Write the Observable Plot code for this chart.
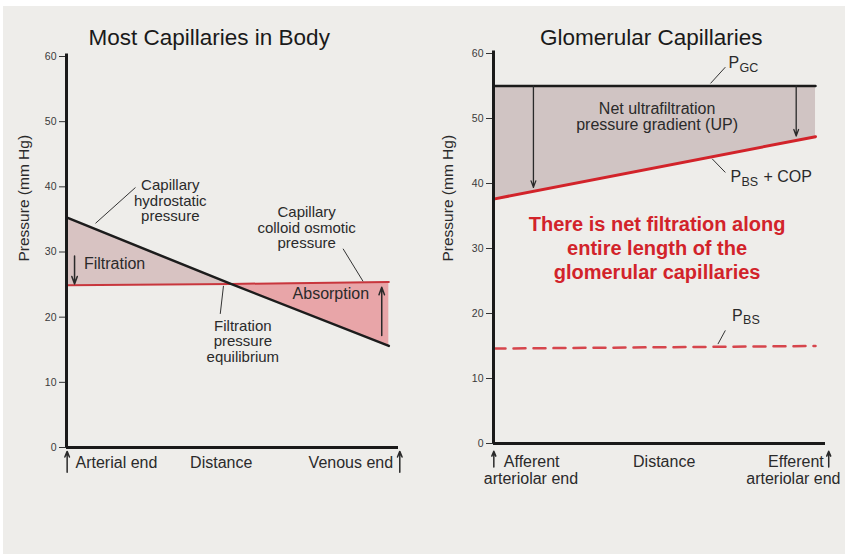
<!DOCTYPE html>
<html>
<head>
<meta charset="utf-8">
<script src="https://cdn.jsdelivr.net/npm/d3@7"></script>
<script src="https://cdn.jsdelivr.net/npm/@observablehq/plot@0.6"></script>
<style>
  html, body { margin: 0; padding: 0; background: #ffffff; }
  #page { position: relative; width: 845px; height: 554px; overflow: hidden; background: #ffffff; }
  #paper { position: absolute; left: 3px; top: 6px; width: 842px; height: 548px; background: #eeedea; }
  #left, #right { position: absolute; top: 0; }
  #left { left: 0; }
  #right { left: 430px; }
</style>
</head>
<body>
<div id="page">
  <div id="paper"></div>
  <div id="left"></div>
  <div id="right"></div>
</div>
<script>
// ---------- Data ----------
const yTicks = [0, 10, 20, 30, 40, 50, 60];

// Left panel: most capillaries in body (distance 0 = arterial end, 1 = venous end)
const leftTitle = "Most Capillaries in Body";
const distance = [0, 0.51, 1];
const hydrostatic = [35.3, 25.1, 15.6];      // capillary hydrostatic pressure
const colloidOsmotic = [24.9, 25.1, 25.4];   // capillary colloid osmotic pressure
const leftEndLabels = ["Arterial end", "Distance", "Venous end"];

// Right panel: glomerular capillaries (0 = afferent, 1 = efferent arteriolar end)
const rightTitle = "Glomerular Capillaries";
const glomDistance = [0, 1];
const pGC = [55, 55];
const pBSplusCOP = [37.6, 47.2];
const pBS = [14.6, 15.0];
const rightEndLabels = ["Afferent", "arteriolar end", "Distance", "Efferent", "arteriolar end"];

const yLabel = "Pressure (mm Hg)";

// ---------- Styles ----------
const FONT = "'Liberation Sans', Arial, Helvetica, sans-serif";
const INK = "#2a2a2a";
const RED = "#d2232a";

// ---------- Left panel ----------
const leftRows = distance.map((d, i) => ({d, h: hydrostatic[i], c: colloidOsmotic[i]}));
const filtrationRows = leftRows.slice(0, 2);
const absorptionRows = leftRows.slice(1, 3);

const leftNotes = [
  {text: "Capillary\nhydrostatic\npressure", x: 0.322, y: 37.9},
  {text: "Capillary\ncolloid osmotic\npressure", x: 0.745, y: 33.7},
  {text: "Filtration\npressure\nequilibrium", x: 0.547, y: 16.3}
];
const leftLeaders = [
  {x1: 0.09, y1: 34.4, x2: 0.214, y2: 39.9},
  {x1: 0.858, y1: 30.5, x2: 0.92, y2: 25.5},
  {x1: 0.477, y1: 20.5, x2: 0.487, y2: 24.8}
];
const leftArrows = [
  {x1: 0.025, y1: 29.4, x2: 0.025, y2: 25.1},
  {x1: 0.978, y1: 17.2, x2: 0.978, y2: 24.6}
];
const leftEndArrows = [
  {x1: 0.002, y1: -3.8, x2: 0.002, y2: -0.6},
  {x1: 1.034, y1: -3.8, x2: 1.034, y2: -0.6}
];

const left = Plot.plot({
  width: 420,
  height: 554,
  marginLeft: 66,
  marginRight: 22,
  marginTop: 56,
  marginBottom: 107,
  style: {background: "transparent", fontFamily: FONT, overflow: "visible"},
  x: {domain: [0, 1.03], axis: null},
  y: {domain: [0, 60], axis: null},
  marks: [
    Plot.areaY(filtrationRows, {x: "d", y1: "c", y2: "h", fill: "#d8c3c2", curve: "linear"}),
    Plot.areaY(absorptionRows, {x: "d", y1: "c", y2: "h", fill: "#e8a5a8", curve: "linear"}),
    Plot.line(leftRows, {x: "d", y: "c", stroke: "#c8363d", strokeWidth: 2}),
    Plot.line(leftRows, {x: "d", y: "h", stroke: "#1c1c1c", strokeWidth: 2.5}),
    Plot.arrow(leftArrows, {x1: "x1", y1: "y1", x2: "x2", y2: "y2", stroke: INK, strokeWidth: 1.5, headLength: 8, headAngle: 40}),
    Plot.link(leftLeaders, {x1: "x1", y1: "y1", x2: "x2", y2: "y2", stroke: "#333", strokeWidth: 1}),
    Plot.text(leftNotes, {x: "x", y: "y", text: "text", fontSize: 15, lineHeight: 1.04, fill: INK}),
    Plot.text(["Filtration"], {x: 0.054, y: 28.2, text: d => d, fontSize: 16, fill: INK, textAnchor: "start"}),
    Plot.text(["Absorption"], {x: 0.82, y: 23.6, text: d => d, fontSize: 16, fill: INK}),
    Plot.axisY({ticks: yTicks, tickSize: 7, tickPadding: 3, fontSize: 10.5, stroke: "#333", fill: "#3a3a3a", label: null}),
    Plot.ruleX([0], {y1: 0, y2: 60.4, stroke: "#1a1a1a", strokeWidth: 3}),
    Plot.ruleY([0], {x1: 0, x2: 1.03, stroke: "#1a1a1a", strokeWidth: 3}),
    Plot.text([leftEndLabels[0]], {x: 0, y: 0, text: d => d, dx: 9, dy: 15.2, fontSize: 16, fill: INK, textAnchor: "start"}),
    Plot.text([leftEndLabels[1]], {x: 0.48, y: 0, text: d => d, dy: 15.2, fontSize: 16, fill: INK}),
    Plot.text([leftEndLabels[2]], {x: 1, y: 0, text: d => d, dx: 4.3, dy: 15.2, fontSize: 16, fill: INK, textAnchor: "end"}),
    Plot.arrow(leftEndArrows, {x1: "x1", y1: "y1", x2: "x2", y2: "y2", stroke: INK, strokeWidth: 1.5, headLength: 6, headAngle: 45}),
    Plot.text([leftTitle], {frameAnchor: "top", text: d => d, dx: -23.3, dy: -27.2, fontSize: 22.5, fill: "#1a1a1a"}),
    Plot.text([yLabel], {frameAnchor: "left", text: d => d, rotate: -90, dx: -42, dy: 9.5, fontSize: 15.5, fill: INK})
  ]
});
document.getElementById("left").append(left);

// ---------- Right panel ----------
const rightRows = glomDistance.map((d, i) => ({d, gc: pGC[i], bc: pBSplusCOP[i], bs: pBS[i]}));

const upNote = {text: "Net ultrafiltration\npressure gradient (UP)", x: 0.508, y: 50.3};
const redNote = {text: "There is net filtration along\nentire length of the\nglomerular capillaries", x: 0.508, y: 30.2};
const rightLeaders = [
  {x1: 0.674, y1: 55.4, x2: 0.720, y2: 57.9},
  {x1: 0.679, y1: 43.8, x2: 0.720, y2: 41.7},
  {x1: 0.697, y1: 15.3, x2: 0.720, y2: 17.4}
];
const rightArrows = [
  {x1: 0.124, y1: 55, x2: 0.124, y2: 39.4},
  {x1: 0.94, y1: 55, x2: 0.94, y2: 47.3}
];
const rightEndArrows = [
  {x1: 0.001, y1: -3.6, x2: 0.001, y2: -1.2},
  {x1: 1.041, y1: -3.6, x2: 1.041, y2: -1.2}
];
const pLabels = [
  {sub: "GC", rest: "", x: 0.730, y: 58.6},
  {sub: "BS", rest: "+ COP", x: 0.736, y: 41.0},
  {sub: "BS", rest: "", x: 0.741, y: 19.7}
];

const right = Plot.plot({
  width: 415,
  height: 554,
  marginLeft: 63,
  marginRight: 20,
  marginTop: 53,
  marginBottom: 111,
  style: {background: "transparent", fontFamily: FONT, overflow: "visible"},
  x: {domain: [0, 1.031], axis: null},
  y: {domain: [0, 60], axis: null},
  marks: [
    Plot.areaY(rightRows, {x: "d", y1: "bc", y2: "gc", fill: "#d0c4c3"}),
    Plot.line(rightRows, {x: "d", y: "bs", stroke: "#d6454c", strokeWidth: 2.5, strokeDasharray: "12,8"}),
    Plot.line(rightRows, {x: "d", y: "gc", stroke: "#1a1a1a", strokeWidth: 2.5}),
    Plot.line(rightRows, {x: "d", y: "bc", stroke: RED, strokeWidth: 3}),
    Plot.arrow(rightArrows, {x1: "x1", y1: "y1", x2: "x2", y2: "y2", stroke: INK, strokeWidth: 1.3, headLength: 8, headAngle: 40}),
    Plot.link(rightLeaders, {x1: "x1", y1: "y1", x2: "x2", y2: "y2", stroke: "#333", strokeWidth: 1}),
    Plot.text([upNote], {x: "x", y: "y", text: "text", fontSize: 16, lineHeight: 1.04, fill: INK}),
    Plot.text([redNote], {x: "x", y: "y", text: "text", fontSize: 20, fontWeight: "bold", lineHeight: 1.2, fill: RED}),
    Plot.text(pLabels, {x: "x", y: "y", text: () => "P", fontSize: 16, fill: INK, textAnchor: "start"}),
    Plot.text(pLabels, {x: "x", y: "y", text: "sub", dx: 11, dy: 5, fontSize: 12.5, fill: INK, textAnchor: "start"}),
    Plot.text(pLabels, {x: "x", y: "y", text: "rest", dx: 33, fontSize: 16, fill: INK, textAnchor: "start"}),
    Plot.axisY({ticks: yTicks, tickSize: 7, tickPadding: 3, fontSize: 10.5, stroke: "#333", fill: "#3a3a3a", label: null}),
    Plot.ruleX([0], {y1: 0, y2: 60.4, stroke: "#1a1a1a", strokeWidth: 3}),
    Plot.ruleY([0], {x1: 0, x2: 1.031, stroke: "#1a1a1a", strokeWidth: 3}),
    Plot.text([rightEndLabels[0]], {x: 0, y: 0, text: d => d, dx: 10.3, dy: 17.9, fontSize: 16, fill: INK, textAnchor: "start"}),
    Plot.text([rightEndLabels[1]], {x: 0, y: 0, text: d => d, dx: -9.7, dy: 35.2, fontSize: 16, fill: INK, textAnchor: "start"}),
    Plot.text([rightEndLabels[2]], {x: 0.53, y: 0, text: d => d, dy: 17.9, fontSize: 16, fill: INK}),
    Plot.text([rightEndLabels[3]], {x: 1, y: 0, text: d => d, dx: 8.3, dy: 17.9, fontSize: 16, fill: INK, textAnchor: "end"}),
    Plot.text([rightEndLabels[4]], {x: 1, y: 0, text: d => d, dx: 25, dy: 35.2, fontSize: 16, fill: INK, textAnchor: "end"}),
    Plot.arrow(rightEndArrows, {x1: "x1", y1: "y1", x2: "x2", y2: "y2", stroke: INK, strokeWidth: 1.5, headLength: 6, headAngle: 45}),
    Plot.text([rightTitle], {frameAnchor: "top", text: d => d, dx: -8.3, dy: -24.2, fontSize: 22.5, fill: "#1a1a1a"}),
    Plot.text([yLabel], {frameAnchor: "left", text: d => d, rotate: -90, dx: -45, dy: 13, fontSize: 15.5, fill: INK})
  ]
});
document.getElementById("right").append(right);
</script>
</body>
</html>
